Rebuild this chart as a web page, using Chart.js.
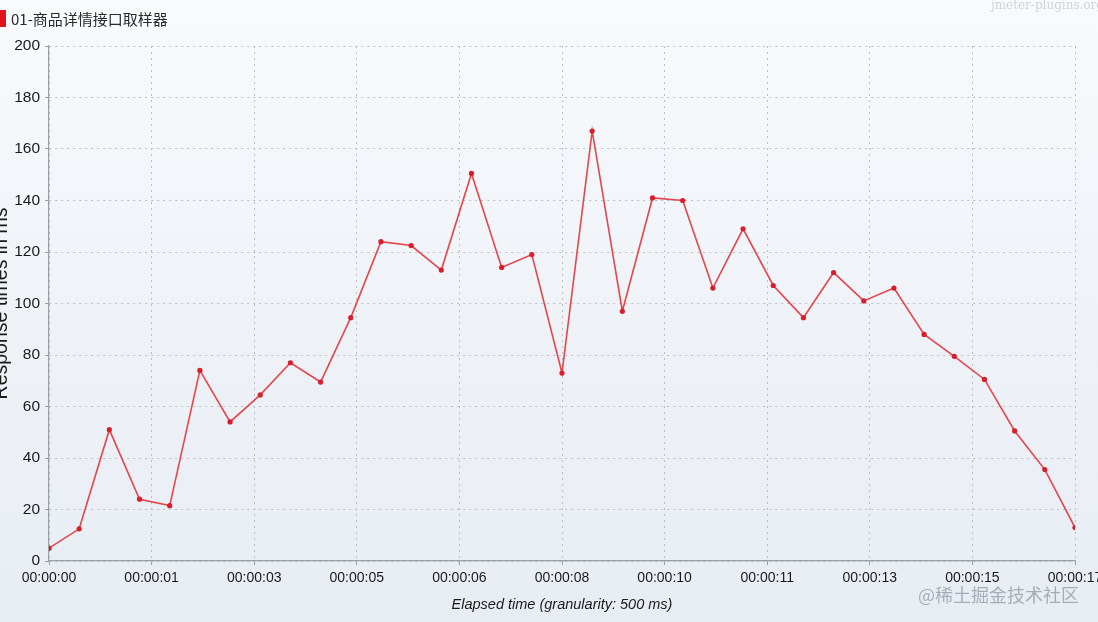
<!DOCTYPE html>
<html>
<head>
<meta charset="utf-8">
<script src="https://cdn.jsdelivr.net/npm/chart.js@4.4.1/dist/chart.umd.min.js"></script>
<style>
  html, body { margin: 0; padding: 0; width: 1098px; height: 622px; overflow: hidden; }
  body { background: linear-gradient(to bottom, #f8fafc 0%, #eef2f7 55%, #e8edf4 100%); position: relative; font-family: "Liberation Sans", Arial, sans-serif; }
  #chart { position: absolute; left: 0; top: 0; }
  .title { position: absolute; left: 0; top: 9px; height: 18px; display: flex; align-items: center; font-size: 15px; color: #2a2a2a; font-family: "Noto Sans CJK SC", sans-serif; }
  .title .mark { width: 6px; height: 17px; background: #e0141c; margin-right: 5px; }
  .wm-top { position: absolute; right: -6px; top: -2px; font-size: 12px; color: #cfd3d8; font-family: "DejaVu Serif", serif; }
  .wm-bottom { position: absolute; left: 918px; top: 581px; font-size: 18px; color: rgba(125,130,138,0.6); font-family: "Noto Sans CJK SC", sans-serif; }
</style>
</head>
<body>
<canvas id="chart" width="1110" height="622"></canvas>
<div class="title"><span class="mark"></span>01-商品详情接口取样器</div>
<div class="wm-top">jmeter-plugins.org</div>
<div class="wm-bottom">@稀土掘金技术社区</div>
<script>
const seriesName = "01-商品详情接口取样器";

// elapsed time in seconds, one sample every 500 ms
const elapsedSec = [
  0, 0.5, 1, 1.5, 2, 2.5, 3, 3.5, 4, 4.5, 5, 5.5, 6, 6.5, 7, 7.5, 8, 8.5,
  9, 9.5, 10, 10.5, 11, 11.5, 12, 12.5, 13, 13.5, 14, 14.5, 15, 15.5, 16, 16.5, 17
];

const responseMs = [
  5, 12.5, 51, 24, 21.5, 74, 54, 64.5, 77, 69.5, 94.5, 124, 122.5, 113, 150.5, 114, 119, 73,
  167, 97, 141, 140, 106, 129, 107, 94.5, 112, 101, 106, 88, 79.5, 70.5, 50.5, 35.5, 13
];

const tickSec = [0, 1.7, 3.4, 5.1, 6.8, 8.5, 10.2, 11.9, 13.6, 15.3, 17];
const tickLabels = [
  "00:00:00", "00:00:01", "00:00:03", "00:00:05", "00:00:06", "00:00:08",
  "00:00:10", "00:00:11", "00:00:13", "00:00:15", "00:00:17"
];

const points = elapsedSec.map((x, i) => ({ x: x, y: responseMs[i] }));

const ctx = document.getElementById("chart");
new Chart(ctx, {
  type: "line",
  data: {
    datasets: [
      {
        label: seriesName,
        data: points,
        borderColor: "#e5454b",
        borderWidth: 1.6,
        backgroundColor: "#d81e2a",
        pointBackgroundColor: "#d81e2a",
        pointBorderColor: "#d81e2a",
        pointRadius: 2.6,
        pointBorderWidth: 0,
        tension: 0,
      },
    ],
  },
  options: {
    responsive: false,
    animation: false,
    layout: { padding: { top: 46, right: 35, bottom: 0, left: 0 } },
    plugins: { legend: { display: false }, tooltip: { enabled: false } },
    scales: {
      x: {
        type: "linear",
        min: 0,
        max: 17,
        afterBuildTicks(scale) {
          scale.ticks = tickSec.map((v) => ({ value: v }));
        },
        afterFit(scale) {
          scale.height = 61;
        },
        ticks: {
          autoSkip: false,
          maxRotation: 0,
          padding: 5,
          color: "#1a1a1a",
          font: { family: "Liberation Sans", size: 14 },
          callback: (v, i) => tickLabels[i],
        },
        grid: { color: "#b9bec5", lineWidth: 1, tickLength: 4, tickColor: "#9aa0a8" },
        border: { color: "#9aa0a8", width: 1.2, dash: [2, 4] },
        title: {
          display: true,
          text: "Elapsed time (granularity: 500 ms)",
          color: "#1a1a1a",
          font: { family: "Liberation Sans", size: 14.5, style: "italic" },
          padding: { top: 0, bottom: 8 },
        },
      },
      y: {
        min: 0,
        max: 200,
        afterFit(scale) {
          scale.width = 49;
        },
        ticks: {
          stepSize: 20,
          padding: 5,
          color: "#1a1a1a",
          font: { family: "Liberation Sans", size: 15.5 },
        },
        grid: { color: "#b9bec5", lineWidth: 1, tickLength: 4, tickColor: "#9aa0a8" },
        border: { color: "#9aa0a8", width: 1.2, dash: [2, 4] },
        title: {
          display: true,
          text: "Response times in ms",
          color: "#1a1a1a",
          font: { family: "Liberation Sans", size: 19.5, lineHeight: 0.5 },
          padding: { top: -3, bottom: 0 },
        },
      },
    },
  },
});
</script>
</body>
</html>
